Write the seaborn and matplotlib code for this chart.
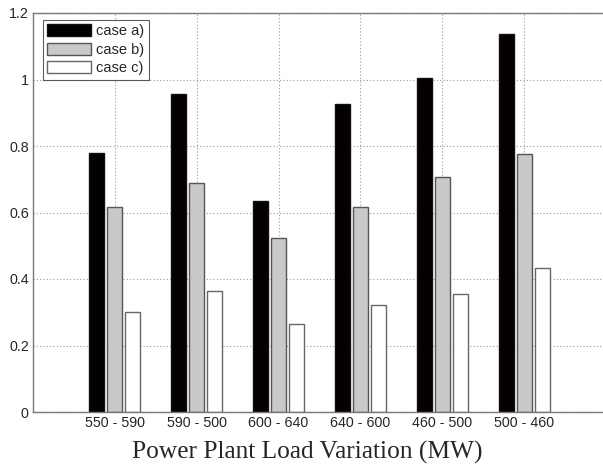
import matplotlib
matplotlib.use("Agg")
import matplotlib.pyplot as plt
import seaborn as sns
import pandas as pd

categories = ["550 - 590", "590 - 500", "600 - 640", "640 - 600", "460 - 500", "500 - 460"]
case_a = [0.778, 0.955, 0.634, 0.925, 1.006, 1.137]
case_b = [0.617, 0.690, 0.522, 0.616, 0.706, 0.775]
case_c = [0.300, 0.365, 0.264, 0.323, 0.356, 0.433]
series_names = ["case a)", "case b)", "case c)"]
yticks = [0, 0.2, 0.4, 0.6, 0.8, 1, 1.2]
ytick_labels = ["0", "0.2", "0.4", "0.6", "0.8", "1", "1.2"]

rows = []
for name, vals in zip(series_names, [case_a, case_b, case_c]):
    for c, v in zip(categories, vals):
        rows.append({"cat": c, "case": name, "val": v})
df = pd.DataFrame(rows)

sns.set_style("white")
plt.rcParams["font.family"] = ["Liberation Sans", "DejaVu Sans"]

fig = plt.figure(figsize=(6.03, 4.68), dpi=100)
W, H = 603, 468
ax = fig.add_axes([33 / W, (H - 412) / H, (606 - 33) / W, (412 - 13) / H])

fills = ["#050000", "#c9c9c9", "#ffffff"]
edges = ["#111111", "#555555", "#666666"]
sns.barplot(data=df, x="cat", y="val", hue="case", order=categories,
            hue_order=series_names, palette=fills, width=0.66, gap=0.18,
            saturation=1, ax=ax, legend=True, errorbar=None)

for i, cont in enumerate(ax.containers):
    for p in cont:
        p.set_edgecolor(edges[i])
        p.set_linewidth(1.0)
        p.set_facecolor(fills[i])

ax.set_xlim(-1, 6)
ax.set_ylim(0, 1.2)
ax.set_yticks(yticks)
ax.set_yticklabels(ytick_labels)
ax.set_xticks(range(len(categories)))
ax.set_xticklabels(categories)
ax.tick_params(axis="both", labelsize=10.3, direction="in", length=3,
               color="#555555", pad=3)
ax.set_ylabel("")
ax.set_xlabel("Power Plant Load Variation (MW)", family=["Liberation Serif"],
              fontsize=18.3)
ax.xaxis.set_label_coords((307 - 33) / 573, -(441 - 412) / 399)
ax.grid(True, linestyle=(0, (1, 2)), color="#999999", linewidth=0.8)
ax.set_axisbelow(True)
for s in ax.spines.values():
    s.set_color("#777777")
    s.set_linewidth(1.0)
ax.spines["right"].set_visible(False)

handles, labels = ax.get_legend_handles_labels()
for h, f, e in zip(handles, fills, edges):
    h.set_facecolor(f)
    h.set_edgecolor(e)
leg = ax.legend(handles, labels, loc="upper left", bbox_to_anchor=(10 / 573, 1 - 7 / 399),
                fontsize=10.5, handlelength=3.0, handleheight=0.9, labelspacing=0.3,
                borderpad=0.3, handletextpad=0.35, frameon=True, fancybox=False,
                borderaxespad=0)
leg.get_frame().set_edgecolor("#333333")
leg.get_frame().set_linewidth(0.8)

fig.savefig("out.png", dpi=100)
